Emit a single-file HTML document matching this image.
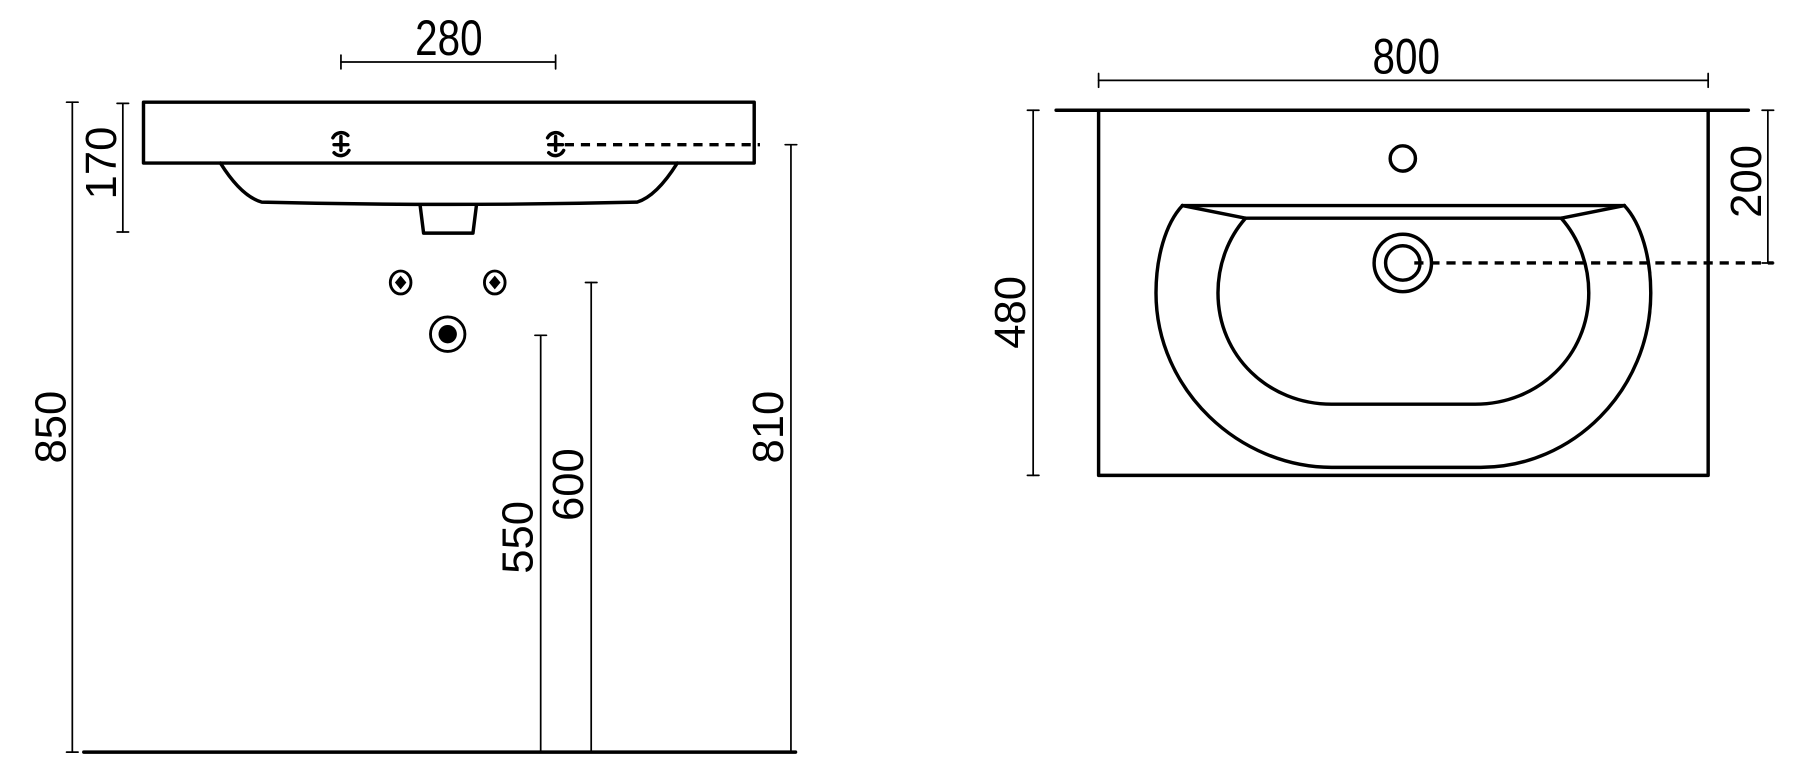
<!DOCTYPE html>
<html><head><meta charset="utf-8"><style>
html,body{margin:0;padding:0;background:#fff;}
svg{display:block;}
text{font-family:"Liberation Sans",sans-serif;fill:#000;}
</style></head><body>
<svg width="1800" height="782" viewBox="0 0 1568 681" preserveAspectRatio="none" xmlns="http://www.w3.org/2000/svg">
<g fill="none" stroke="#000" stroke-linecap="round" stroke-linejoin="round">
<g stroke-width="1.5">
<line x1="297" y1="54" x2="484" y2="54"/><line x1="297" y1="48" x2="297" y2="60"/><line x1="484" y1="48" x2="484" y2="60"/>
<line x1="107" y1="90" x2="107" y2="202"/><line x1="102" y1="90" x2="112" y2="90"/><line x1="102" y1="202" x2="112" y2="202"/>
<line x1="63" y1="89" x2="63" y2="655"/><line x1="58" y1="89" x2="68" y2="89"/><line x1="58" y1="655" x2="68" y2="655"/>
<line x1="471" y1="292" x2="471" y2="655"/><line x1="466" y1="292" x2="476" y2="292"/>
<line x1="515" y1="246" x2="515" y2="655"/><line x1="510" y1="246" x2="520" y2="246"/>
<line x1="689" y1="126" x2="689" y2="655"/><line x1="684" y1="126" x2="694" y2="126"/>
</g>
<g stroke-width="3">
<rect x="125" y="89" width="532" height="53"/>
<path d="M192,142 C202,158 214,172 228,176 Q390,180 555,176 C568,172 580,158 590,142"/>
<path d="M366,179 L369,203 L412,203 L415,179"/>
<line x1="73" y1="655" x2="693" y2="655"/>
<line x1="492" y1="126" x2="662" y2="126" stroke-dasharray="8,6" stroke-linecap="butt"/>
</g>
<g stroke-width="3">
<path d="M290,120 A8,8 0 0 1 303,118 M304,131 A8,8 0 0 1 291,133 M297,119 L297,131 M291,126 L303,126"/>
<path d="M477,120 A8,8 0 0 1 490,118 M491,131 A8,8 0 0 1 478,133 M484,119 L484,131 M478,126 L490,126"/>
</g>
<g stroke-width="2.5">
<ellipse cx="349" cy="246" rx="9" ry="10"/><ellipse cx="431" cy="246" rx="9" ry="10"/>
<circle cx="390" cy="291" r="15"/>
</g>
<path d="M349,240 L354,246 L349,252 L344,246Z M431,240 L436,246 L431,252 L426,246Z" fill="#000" stroke="none"/>
<circle cx="390" cy="291" r="8" fill="#000" stroke="none"/>

<g stroke-width="1.5">
<line x1="957" y1="70" x2="1488" y2="70"/><line x1="957" y1="64" x2="957" y2="76"/><line x1="1488" y1="64" x2="1488" y2="76"/>
<line x1="900" y1="96" x2="900" y2="414"/><line x1="895" y1="96" x2="905" y2="96"/><line x1="895" y1="414" x2="905" y2="414"/>
<line x1="1540" y1="96" x2="1540" y2="229"/><line x1="1535" y1="96" x2="1545" y2="96"/><line x1="1535" y1="229" x2="1545" y2="229"/>
</g>
<g stroke-width="3">
<line x1="920" y1="96" x2="1523" y2="96"/>
<path d="M957,96 L957,414 L1488,414 L1488,96"/>
<circle cx="1222" cy="138" r="11"/>
<circle cx="1222" cy="229" r="25"/><circle cx="1222" cy="229" r="15"/>
<line x1="1232" y1="229" x2="1545" y2="229" stroke-dasharray="8,6" stroke-linecap="butt"/>
<path d="M1030,179 L1415,179"/>
<path d="M1030,179 C1015,195 1007,225 1007,255 C1007,340 1080,407 1160,407 L1290,407 C1370,407 1438,340 1438,255 C1438,225 1430,195 1415,179"/>
<path d="M1030,179 L1085,190 L1360,190 L1415,179"/>
<path d="M1085,190 C1070,207 1061,230 1061,255 C1061,310 1105,352 1160,352 L1285,352 C1340,352 1384,310 1384,255 C1384,230 1375,207 1360,190"/>
</g>
</g>
<g font-size="44">
<text x="391" y="48" text-anchor="middle" transform="translate(391 0) scale(0.8 1) translate(-391 0)">280</text>
<text x="1225" y="64" text-anchor="middle" transform="translate(1225 0) scale(0.8 1) translate(-1225 0)">800</text>
</g>
<g font-size="38">
<text transform="translate(101 142) rotate(-90)" text-anchor="middle">170</text>
<text transform="translate(57 372) rotate(-90)" text-anchor="middle">850</text>
<text transform="translate(464 468) rotate(-90)" text-anchor="middle">550</text>
<text transform="translate(508 422) rotate(-90)" text-anchor="middle">600</text>
<text transform="translate(682 372) rotate(-90)" text-anchor="middle">810</text>
<text transform="translate(893 272) rotate(-90)" text-anchor="middle">480</text>
<text transform="translate(1534 158) rotate(-90)" text-anchor="middle">200</text>
</g>
</svg>
</body></html>
